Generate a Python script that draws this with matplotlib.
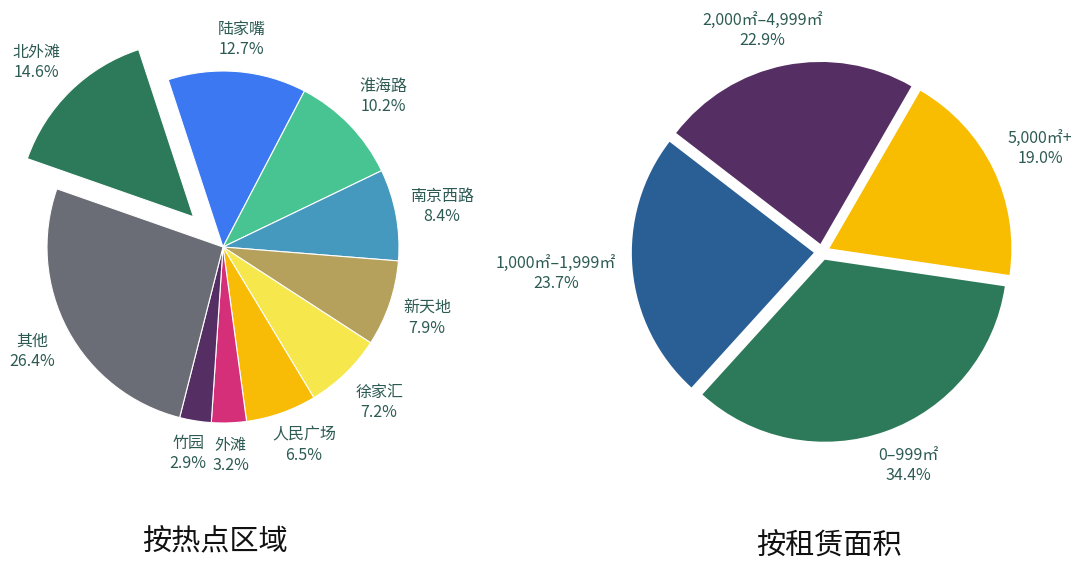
import numpy as np
import matplotlib
matplotlib.use("Agg")
import matplotlib.pyplot as plt

plt.rcParams["font.family"] = ["Noto Sans CJK SC", "DejaVu Sans"]

# ---------------------------------------------------------------------------
# Data
# ---------------------------------------------------------------------------
area_names = ["北外滩", "陆家嘴", "淮海路", "南京西路", "新天地",
              "徐家汇", "人民广场", "外滩", "竹园", "其他"]
area_share = [14.6, 12.7, 10.2, 8.4, 7.9, 7.2, 6.5, 3.2, 2.9, 26.4]
area_colors = ["#2d7a5a", "#3b78f2", "#48c492", "#4599bf", "#b5a05c",
               "#f6e84c", "#f8bc06", "#d42f78", "#552e63", "#6a6d75"]
area_explode = [0.24, 0, 0, 0, 0, 0, 0, 0, 0, 0]

size_names = ["0–999㎡", "1,000㎡–1,999㎡", "2,000㎡–4,999㎡", "5,000㎡+"]
size_share = [34.4, 23.7, 22.9, 19.0]
size_colors = ["#2d7a5a", "#2a5f95", "#552e63", "#f8bc00"]
size_explode = [0.045, 0.045, 0.045, 0.045]

LABEL_COLOR = "#2d5b54"
W, H = 1080, 573


def pie_axes(fig, cx, cy, r_px, half_px):
    """Square axes centred on pixel (cx, cy); radius 1 maps to r_px pixels."""
    ax = fig.add_axes([(cx - half_px) / W, (H - cy - half_px) / H,
                       2 * half_px / W, 2 * half_px / H])
    return ax, half_px / r_px


def place_labels(ax, wedges, labels, dist, r_px, renderer):
    """Put each label just outside its wedge, nudged away by its own size."""
    for w, txt in zip(wedges, labels):
        ang = np.deg2rad((w.theta1 + w.theta2) / 2)
        cx, cy = w.center
        x0 = cx + dist * w.r * np.cos(ang)
        y0 = cy + dist * w.r * np.sin(ang)
        t = ax.text(x0, y0, txt, ha="center", va="center",
                    multialignment="center", fontsize=11.5,
                    color=LABEL_COLOR, linespacing=1.25)
        bb = t.get_window_extent(renderer)
        fx = np.clip(np.cos(ang) / 0.6, -1, 1)
        fy = np.clip(np.sin(ang) / 0.6, -1, 1)
        t.set_position((x0 + fx * bb.width / 2 / r_px,
                        y0 + fy * bb.height / 2 / r_px))


fig = plt.figure(figsize=(W / 100, H / 100), dpi=100)
renderer = fig.canvas.get_renderer()

# Left: by hot-spot area
ax1, lim1 = pie_axes(fig, 223, 247, 176, 235)
w1, _ = ax1.pie(area_share, colors=area_colors, explode=area_explode,
                startangle=160.7, counterclock=False,
                wedgeprops=dict(edgecolor="white", linewidth=0.8))
ax1.set_xlim(-lim1, lim1)
ax1.set_ylim(-lim1, lim1)
ax1.set_aspect("equal")
ax1.axis("off")
place_labels(ax1, w1, [f"{n}\n{v:.1f}%" for n, v in zip(area_names, area_share)],
             1.08, 176, renderer)

# Right: by leased area
ax2, lim2 = pie_axes(fig, 822, 252, 182, 245)
w2, _ = ax2.pie(size_share, colors=size_colors, explode=size_explode,
                startangle=-8.4, counterclock=False,
                wedgeprops=dict(linewidth=0))
ax2.set_xlim(-lim2, lim2)
ax2.set_ylim(-lim2, lim2)
ax2.set_aspect("equal")
ax2.axis("off")
place_labels(ax2, w2, [f"{n}\n{v:.1f}%" for n, v in zip(size_names, size_share)],
             1.09, 182, renderer)

fig.text(215 / W, 1 - 542 / H, "按热点区域", ha="center", va="center",
         fontsize=21, fontweight="medium", color="#111111")
fig.text(829 / W, 1 - 547 / H, "按租赁面积", ha="center", va="center",
         fontsize=21, fontweight="medium", color="#111111")

fig.savefig("out.png", dpi=100)
